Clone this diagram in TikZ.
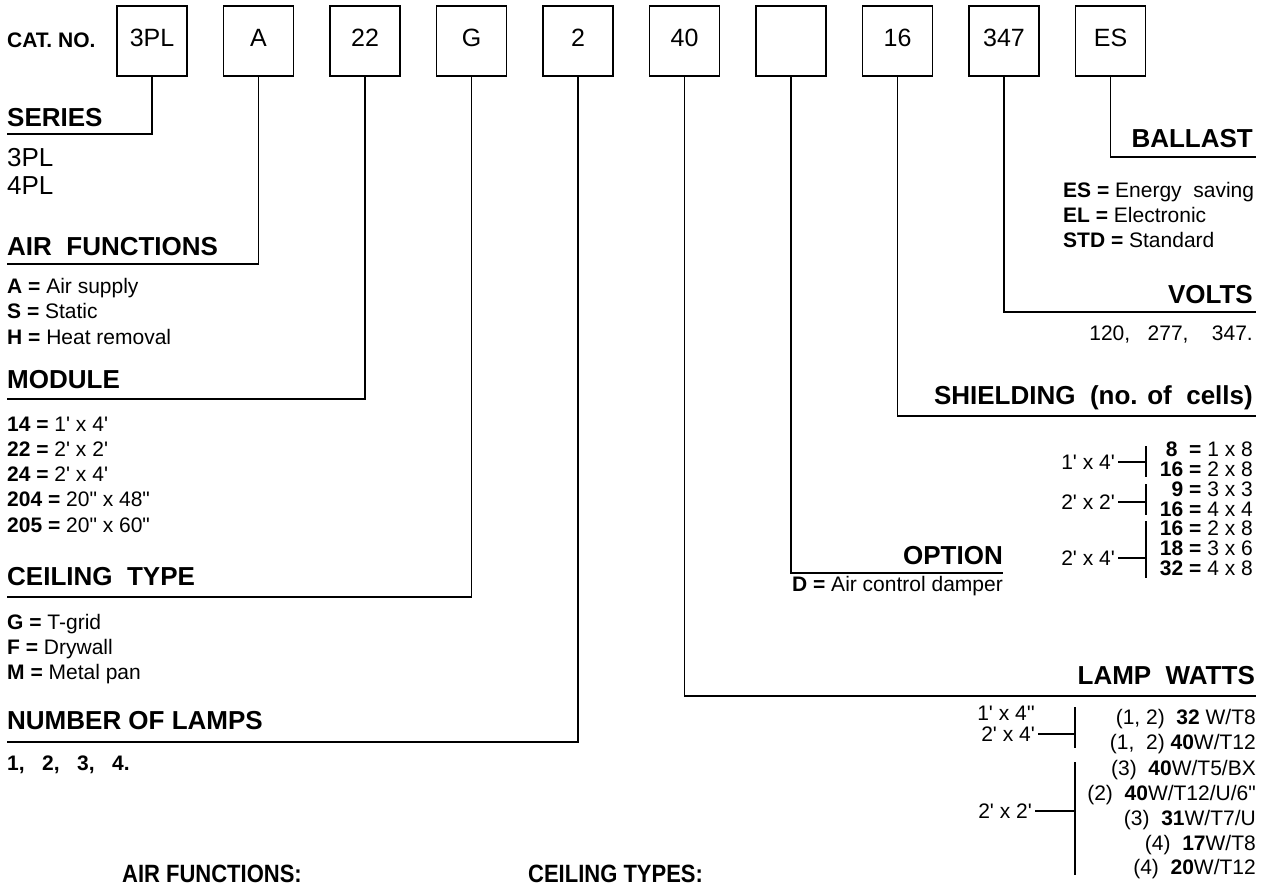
\documentclass[tikz,border=0pt]{standalone}
\usepackage{fontspec}
\newfontfamily\ls{Liberation Sans}
\newcommand\fsz[1]{\fontsize{#1}{#1}\selectfont}
\begin{document}
\begin{tikzpicture}[x=1pt,y=-1pt,
  catbox/.style={draw, line width=1.6pt, minimum width=70pt, minimum height=70pt, inner sep=0pt, text height=17.9pt, text depth=7pt, font=\ls\fsz{25}},
  conn/.style={line width=1.8pt},
  head/.style={font=\ls\fsz{26}\bfseries, inner sep=0pt},
  item/.style={font=\ls\fsz{21}, inner sep=0pt},
  big/.style={font=\ls\fsz{26}, inner sep=0pt},
  foot/.style={font=\ls\fsz{25}\bfseries, inner sep=0pt, xscale=0.88, transform shape}]
\useasboundingbox (0,0) rectangle (1268,886);

% catalogue number
\node[font=\ls\fsz{21}\bfseries, inner sep=0pt, anchor=base west] (cat) at (7,47) {CAT. NO.};
\foreach \t [count=\i from 0] in {3PL,A,22,G,2,40,{},16,347,ES}
  \node[catbox] (b\i) at (152+106.5*\i,41) {\t};

% connector ends
\coordinate (e0) at (7,134);
\coordinate (e1) at (7,264);
\coordinate (e2) at (7,399);
\coordinate (e3) at (7,597);
\coordinate (e4) at (7,742);
\coordinate (e5) at (1256,696);
\coordinate (e6) at (1003,573);
\coordinate (e7) at (1256,416);
\coordinate (e8) at (1256,312);
\coordinate (e9) at (1256,157);
\foreach \i in {0,...,9}
  \draw[conn] (b\i.south) |- (e\i);

% left column
\node[head, anchor=base west] (hser) at (7,126) {SERIES};
\node[big, anchor=base west] (s1) at (7,166) {3PL};
\node[big, anchor=base west] (s2) at (7,194) {4PL};

\node[head, anchor=base west] (hair) at (7,255) {AIR~~FUNCTIONS};
\node[item, anchor=base west] (a1) at (7,293) {\textbf{A =} Air supply};
\node[item, anchor=base west] (a2) at (7,318.5) {\textbf{S =} Static};
\node[item, anchor=base west] (a3) at (7,344) {\textbf{H =} Heat removal};

\node[head, anchor=base west] (hmod) at (7,388) {MODULE};
\node[item, anchor=base west] (m1) at (7,431) {\textbf{14 =} 1' x 4'};
\node[item, anchor=base west] (m2) at (7,456) {\textbf{22 =} 2' x 2'};
\node[item, anchor=base west] (m3) at (7,481) {\textbf{24 =} 2' x 4'};
\node[item, anchor=base west] (m4) at (7,506.5) {\textbf{204 =} 20" x 48"};
\node[item, anchor=base west] (m5) at (7,532) {\textbf{205 =} 20" x 60"};

\node[head, anchor=base west] (hceil) at (7,585) {CEILING~~TYPE};
\node[item, anchor=base west] (c1) at (7,629.5) {\textbf{G =} T-grid};
\node[item, anchor=base west] (c2) at (7,654.5) {\textbf{F =} Drywall};
\node[item, anchor=base west] (c3) at (7,679.5) {\textbf{M =} Metal pan};

\node[head, anchor=base west] (hnum) at (7,729) {NUMBER OF LAMPS};
\node[item, anchor=base west, font=\ls\fsz{21}\bfseries] (n1) at (7,770.5) {1,~~~2,~~~3,~~~4.};

\node[foot, anchor=base west] (fair) at (122,882) {AIR FUNCTIONS:};
\node[foot, anchor=base west] (fceil) at (528,882) {CEILING TYPES:};

% right column
\node[head, anchor=base east] (hbal) at (1253,147) {BALLAST};
\node[item, anchor=base west] (bl1) at (1063,197.5) {\textbf{ES =} Energy~~saving};
\node[item, anchor=base west] (bl2) at (1063,222.5) {\textbf{EL =} Electronic};
\node[item, anchor=base west] (bl3) at (1063,247.5) {\textbf{STD =} Standard};

\node[head, anchor=base east] (hvol) at (1253,303) {VOLTS};
\node[item, anchor=base east] (v1) at (1253,340.5) {120,~~~277,~~~~347.};

\node[head, anchor=base east] (hshi) at (1253,404) {SHIELDING~~(no. of~~cells)};
\node[item, anchor=base east] (r1) at (1253,456.5) {\textbf{8}~~\textbf{=} 1 x 8};
\node[item, anchor=base east] (r2) at (1253,476.5) {\textbf{16 =} 2 x 8};
\node[item, anchor=base east] (r3) at (1253,496.5) {\textbf{9 =} 3 x 3};
\node[item, anchor=base east] (r4) at (1253,516) {\textbf{16 =} 4 x 4};
\node[item, anchor=base east] (r5) at (1253,535.5) {\textbf{16 =} 2 x 8};
\node[item, anchor=base east] (r6) at (1253,555.5) {\textbf{18 =} 3 x 6};
\node[item, anchor=base east] (r7) at (1253,575) {\textbf{32 =} 4 x 8};
\node[item, anchor=east] (g1) at (1115,462) {1' x 4'};
\node[item, anchor=east] (g2) at (1115,502) {2' x 2'};
\node[item, anchor=east] (g3) at (1115,558) {2' x 4'};
\coordinate (k1t) at (1146,446); \coordinate (k1b) at (1146,477);
\coordinate (k2t) at (1146,484); \coordinate (k2b) at (1146,515);
\coordinate (k3t) at (1146,521); \coordinate (k3b) at (1146,578);
\foreach \k in {1,2,3} {
  \draw[conn] (k\k t) -- (k\k b);
  \draw[conn] ([xshift=3pt]g\k.east) -- (g\k.east -| k\k t);
}

\node[head, anchor=base east] (hopt) at (1003,564) {OPTION};
\node[item, anchor=base east] (o1) at (1003,591) {\textbf{D =} Air control damper};

\node[head, anchor=base east] (hlamp) at (1255,684) {LAMP~~WATTS};
\node[item, anchor=base east] (w1) at (1256,724.5) {(1, 2)~~\textbf{32} W/T8};
\node[item, anchor=base east] (w2) at (1256,749.5) {(1,~~2) \textbf{40}W/T12};
\node[item, anchor=base east] (w3) at (1256,775.5) {(3)~~\textbf{40}W/T5/BX};
\node[item, anchor=base east] (w4) at (1256,800.5) {(2)~~\textbf{40}W/T12/U/6"};
\node[item, anchor=base east] (w5) at (1256,825.5) {(3)~~\textbf{31}W/T7/U};
\node[item, anchor=base east] (w6) at (1256,850.5) {(4)~~\textbf{17}W/T8};
\node[item, anchor=base east] (w7) at (1256,874.5) {(4)~~\textbf{20}W/T12};
\node[item, anchor=base east] (l0) at (1035,720) {1' x 4''};
\node[item, anchor=base east] (l1) at (1035,741) {2' x 4'};
\node[item, anchor=east] (l2) at (1032,811) {2' x 2'};
\coordinate (q1t) at (1075,707); \coordinate (q1b) at (1075,748);
\coordinate (q2t) at (1075,762); \coordinate (q2b) at (1075,875);
\foreach \k in {1,2} {
  \draw[conn] (q\k t) -- (q\k b);
  \draw[conn] ([xshift=3pt]l\k.east) -- (l\k.east -| q\k t);
}
\end{tikzpicture}
\end{document}
